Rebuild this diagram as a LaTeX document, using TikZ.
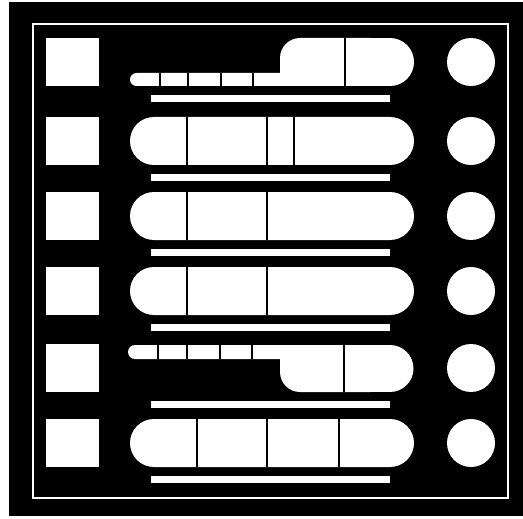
\documentclass[tikz,border=0pt]{standalone}
\begin{document}
\begin{tikzpicture}[x=1pt,y=-1pt,
  wh/.style={fill=white},
  divline/.style={draw=black, line width=1.4pt},
  pill/.style={fill=white, rounded corners=24pt},
  framestyle/.style={draw=white, line width=2pt}]
\useasboundingbox (0,0) rectangle (523,519);
\fill[white] (0,0) rectangle (523,519);
\fill[black] (9,2) rectangle (523,516);
\draw[framestyle] (33,24) rectangle (508,498);

% squares, circles, bars
\foreach \t in {38,117,192,267,344,419} {
  \fill[wh] (46,\t) rectangle (99,\t+48);
  \fill[wh] (471,\t+24) circle (24);
  \fill[wh] (151,\t+57) rectangle (390,\t+64);
}

% full pills
\foreach \t in {117,192,267,419} {
  \fill[pill] (130,\t) rectangle (414,\t+48);
}
\foreach \x in {187,267,294} { \draw[divline] (\x,117) -- (\x,165); }
\foreach \x in {187,267} { \draw[divline] (\x,192) -- (\x,240); }
\foreach \x in {187,267} { \draw[divline] (\x,267) -- (\x,315); }
\foreach \x in {197,267,339} { \draw[divline] (\x,419) -- (\x,467); }

% row 1: strip at bottom, big shape with rounded top-left
\fill[wh, rounded corners=6.5pt] (130,73) rectangle (310,86);
\fill[wh, rounded corners=20pt] (280,38) rectangle (390,86);
\fill[wh] (280,60) rectangle (320,86);
\fill[wh] (340,38) rectangle (390,86);
\fill[wh] (390,62) circle (24);
\foreach \x in {160,188,221,253} { \draw[divline] (\x,73) -- (\x,86); }
\draw[divline] (345,38) -- (345,86);

% row 5: strip at top, big shape with rounded bottom-left
\fill[wh, rounded corners=7pt] (128,345) rectangle (310,359);
\fill[wh, rounded corners=20pt] (280,345) rectangle (390,392);
\fill[wh] (280,345) rectangle (320,370);
\fill[wh] (340,345) rectangle (390,392);
\fill[wh] (390,368.5) circle (23.5);
\foreach \x in {158,187,220,252} { \draw[divline] (\x,345) -- (\x,359); }
\draw[divline] (344,345) -- (344,392);
\end{tikzpicture}
\end{document}
